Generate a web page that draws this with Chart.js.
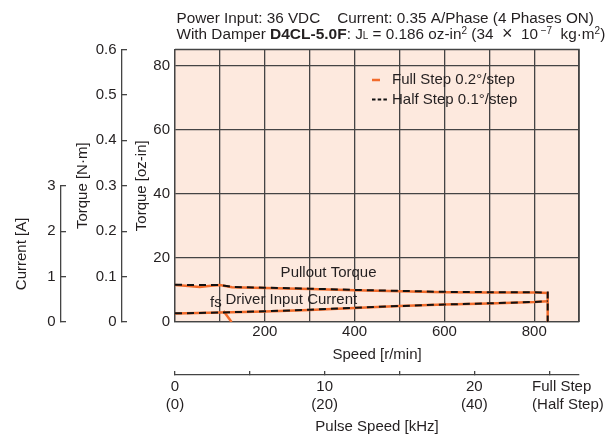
<!DOCTYPE html>
<html>
<head>
<meta charset="utf-8">
<script src="https://cdn.jsdelivr.net/npm/chart.js@4.4.1/dist/chart.umd.min.js"></script>
<style>
  html, body { margin: 0; padding: 0; background: #fff; }
</style>
</head>
<body>
<canvas id="chart" width="613" height="437"></canvas>
<script>
// speed in r/min, torque in oz-in, current in A
const speedLabels = [200, 400, 600, 800];
const ozTicks = [0, 20, 40, 60, 80];
const nmTicks = [0, 0.1, 0.2, 0.3, 0.4, 0.5, 0.6];
const ampTicks = [0, 1, 2, 3];
const pulseTicks = [0, 5, 10, 15, 20, 25];
const NB = '\u00a0';
const pulseLabels = {
  0: ['0', '(0)'],
  10: ['10', '(20)'],
  20: ['20', '(40)'],
  25: [NB.repeat(6) + 'Full Step', NB.repeat(9) + '(Half Step)']
};

// pullout torque, full step (orange)
const fullSpeed   = [0, 30, 55, 80, 100, 127, 150, 200, 300, 400, 500, 600, 700, 800, 830, 830];
const fullPullout = [11.5, 11.2, 10.95, 11.3, 11.5, 10.85, 10.75, 10.6, 10.3, 9.9, 9.6, 9.3, 9.2, 9.2, 9.06, 0];
// pullout torque, half step (black dashed)
const halfSpeed   = [0, 100, 130, 200, 300, 400, 500, 600, 700, 800, 830, 830];
const halfPullout = [11.6, 11.5, 10.9, 10.7, 10.4, 10.0, 9.7, 9.4, 9.3, 9.25, 9.2, 0];
// driver input current
const curSpeed    = [0, 100, 200, 300, 400, 500, 600, 700, 800, 830];
const fullCurrent = [0.185, 0.207, 0.23, 0.265, 0.31, 0.35, 0.383, 0.41, 0.44, 0.457];
const halfCurrent = [0.19, 0.21, 0.235, 0.27, 0.315, 0.352, 0.385, 0.412, 0.442, 0.46];
// starting frequency mark
const fsSpeed   = [108, 126];
const fsCurrent = [0.24, 0];

const FONT = '"Liberation Sans", Arial, sans-serif';
const TEXT = '#231f20';
const GRID = '#444444';
const ORANGE = '#f26b2b';
const BLACK = '#111111';
const BG = '#fde9de';

Chart.defaults.font.family = FONT;
Chart.defaults.font.size = 15;
Chart.defaults.color = TEXT;

function pts(xs, ys) {
  return xs.map((x, i) => ({ x: x, y: ys[i] }));
}
function fixedTicks(list) {
  return s => { s.ticks = list.map(v => ({ value: v })); };
}

const plotArea = {
  id: 'plotArea',
  beforeDraw(chart) {
    const a = chart.chartArea, ctx = chart.ctx;
    ctx.save();
    ctx.fillStyle = BG;
    ctx.fillRect(a.left, a.top, a.right - a.left, a.bottom - a.top);
    ctx.restore();
  },
  beforeDatasetsDraw(chart) {
    const a = chart.chartArea, ctx = chart.ctx;
    ctx.save();
    ctx.strokeStyle = GRID;
    ctx.lineWidth = 1.3;
    ctx.beginPath();
    ctx.moveTo(a.left, a.top);
    ctx.lineTo(a.right, a.top);
    ctx.lineTo(a.right, a.bottom);
    ctx.stroke();
    ctx.restore();
  }
};

const notes = {
  id: 'notes',
  afterDraw(chart) {
    const ctx = chart.ctx, a = chart.chartArea;
    const sx = chart.scales.x, sy = chart.scales.y;
    ctx.save();
    ctx.fillStyle = TEXT;
    ctx.font = '15px ' + FONT;
    ctx.textBaseline = 'middle';
    ctx.textAlign = 'center';
    ctx.fillText('Pullout Torque', sx.getPixelForValue(342), sy.getPixelForValue(15.3));
    ctx.fillText('Driver Input Current', sx.getPixelForValue(259), sy.getPixelForValue(7.0));
    ctx.fillText('fs', sx.getPixelForValue(91), sy.getPixelForValue(5.9));

    // legend inside plot
    const lx = a.left + 197, ly1 = a.top + 30.5, ly2 = a.top + 50;
    ctx.lineWidth = 2.5;
    ctx.strokeStyle = ORANGE;
    ctx.beginPath(); ctx.moveTo(lx, ly1); ctx.lineTo(lx + 8, ly1); ctx.stroke();
    ctx.lineWidth = 2;
    ctx.strokeStyle = BLACK;
    ctx.setLineDash([3.5, 2.2]);
    ctx.beginPath(); ctx.moveTo(lx, ly2); ctx.lineTo(lx + 15, ly2); ctx.stroke();
    ctx.setLineDash([]);
    ctx.textAlign = 'left';
    ctx.fillText('Full Step 0.2°/step', lx + 20, ly1);
    ctx.fillText('Half Step 0.1°/step', lx + 20, ly2);

    // header
    ctx.textBaseline = 'alphabetic';
    ctx.font = '15.3px ' + FONT;
    ctx.fillText('Power Input: 36 VDC' + NB.repeat(4) + 'Current: 0.35 A/Phase (4 Phases ON)', 176.5, 23.3);
    const N = '15.3px ' + FONT, S = '10px ' + FONT;
    const segs = [
      ['With Damper ', N, 0],
      ['D4CL-5.0F', 'bold 15.5px ' + FONT, 0],
      [': J', N, 0],
      ['L', S, 0.5],
      [' = 0.186 oz-in', N, 0],
      ['2', S, -5],
      [' (34 ' + NB, N, 0],
      ['\u00d7', '18px ' + FONT, 0],
      [NB + ' 10', N, 0],
      [NB + '\u22127', S, -5],
      [NB + ' kg\u00b7m', N, 0],
      ['2', S, -5],
      [')', N, 0]
    ];
    let x = 176.5;
    for (const s of segs) {
      ctx.font = s[1];
      ctx.fillText(s[0], x, 38.5 + s[2]);
      x += ctx.measureText(s[0]).width;
    }
    ctx.restore();
  }
};

new Chart(document.getElementById('chart'), {
  type: 'line',
  data: {
    datasets: [
      { label: 'Half Step 0.1°/step', data: pts(halfSpeed, halfPullout), yAxisID: 'y',
        borderColor: BLACK, borderWidth: 2, borderDash: [7, 5] },
      { label: 'Half Step current', data: pts(curSpeed, halfCurrent), yAxisID: 'yA',
        borderColor: BLACK, borderWidth: 2, borderDash: [7, 5] },
      { label: 'Full Step 0.2°/step', data: pts(fullSpeed, fullPullout), yAxisID: 'y',
        borderColor: ORANGE, borderWidth: 2.5 },
      { label: 'Full Step current', data: pts(curSpeed, fullCurrent), yAxisID: 'yA',
        borderColor: ORANGE, borderWidth: 2.5 },
      { label: 'fs', data: pts(fsSpeed, fsCurrent), yAxisID: 'yA',
        borderColor: ORANGE, borderWidth: 2.5 }
    ]
  },
  options: {
    responsive: false,
    animation: false,
    layout: { padding: { top: 49.5, right: 30.3, left: 0, bottom: 0 } },
    elements: { point: { radius: 0 }, line: { tension: 0, fill: false } },
    plugins: { legend: { display: false }, tooltip: { enabled: false } },
    scales: {
      x: {
        type: 'linear', position: 'bottom', weight: 0, min: 0, max: 900,
        ticks: { stepSize: 100, autoSkip: false, maxRotation: 0, padding: 1,
          callback: v => speedLabels.includes(v) ? String(v) : '' },
        grid: { color: GRID, lineWidth: 1.3, drawTicks: false },
        border: { color: GRID, width: 1.3 },
        title: { display: true, text: 'Speed [r/min]', padding: { top: 0, bottom: 11 } },
        afterFit: s => { s.height = 53; }
      },
      x2: {
        type: 'linear', position: 'bottom', weight: 1, min: 0, max: 27,
        afterBuildTicks: fixedTicks(pulseTicks),
        ticks: { autoSkip: false, maxRotation: 0, padding: 6.7,
          callback: v => pulseLabels[v] || '' },
        grid: { drawOnChartArea: false, color: GRID, lineWidth: 1.3, tickLength: -4 },
        border: { color: GRID, width: 1.3 },
        title: { display: true, text: 'Pulse Speed [kHz]', padding: { top: 0, bottom: 1.3 } },
        afterFit: s => { s.height = 62; }
      },
      y: {
        type: 'linear', position: 'left', weight: 0, min: 0, max: 84.97,
        afterBuildTicks: fixedTicks(ozTicks),
        ticks: { padding: 5 },
        grid: { color: GRID, lineWidth: 1.3, drawTicks: false },
        border: { color: GRID, width: 1.3 },
        title: { display: true, text: 'Torque [oz-in]', padding: 10.7 },
        afterFit: s => { s.width = 53; }
      },
      yNm: {
        type: 'linear', position: 'left', weight: 1, min: 0, max: 0.6,
        afterBuildTicks: fixedTicks(nmTicks),
        ticks: { padding: 10.5 },
        grid: { drawOnChartArea: false, color: GRID, lineWidth: 1.3, tickLength: -5 },
        border: { color: GRID, width: 1.3 },
        title: { display: true, text: 'Torque [N\u00b7m]', padding: 13.3 },
        afterFit: s => { s.width = 61; }
      },
      yA: {
        type: 'linear', position: 'left', weight: 2, min: 0, max: 3,
        stack: 'current', stackWeight: 1,
        afterBuildTicks: fixedTicks(ampTicks),
        ticks: { padding: 10.5 },
        grid: { drawOnChartArea: false, color: GRID, lineWidth: 1.3, tickLength: -5 },
        border: { color: GRID, width: 1.3 },
        title: { display: true, text: 'Current [A]', padding: 12.7 },
        afterFit: s => { s.width = 61; }
      },
      yAtop: {
        type: 'linear', position: 'left', weight: 3, min: 0, max: 1,
        stack: 'current', stackWeight: 1,
        ticks: { display: false },
        grid: { display: false },
        border: { display: false },
        afterFit: s => { s.width = 61; }
      }
    }
  },
  plugins: [plotArea, notes]
});
</script>
</body>
</html>
